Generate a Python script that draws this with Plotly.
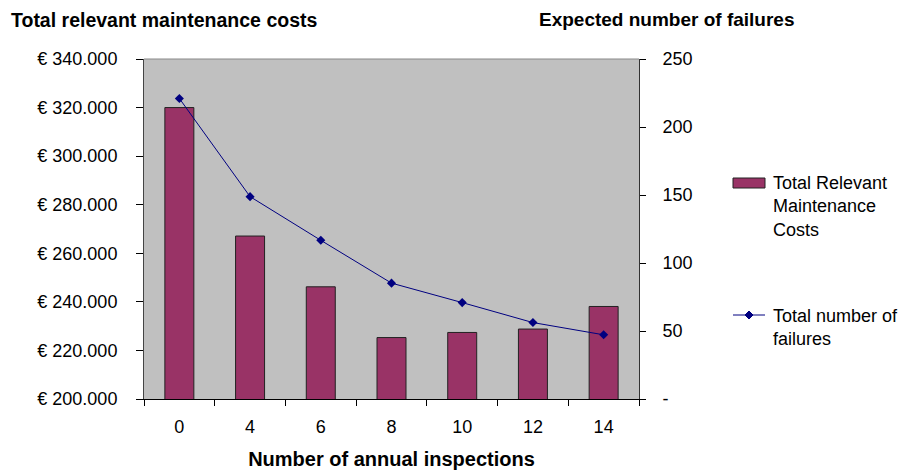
import plotly.graph_objects as go

# Number of annual inspections (categories)
inspections = ["0", "4", "6", "8", "10", "12", "14"]
# Total relevant maintenance costs in euro
costs = [320000, 267100, 246200, 225300, 227400, 228800, 238100]
# Expected number of failures
failures = [221.0, 148.8, 116.7, 85.2, 70.9, 56.2, 47.2]

cost_ticks = [200000, 220000, 240000, 260000, 280000, 300000, 320000, 340000]
cost_labels = ["€ 200.000", "€ 220.000", "€ 240.000", "€ 260.000",
               "€ 280.000", "€ 300.000", "€ 320.000", "€ 340.000"]
fail_ticks = [0, 50, 100, 150, 200, 250]
fail_labels = ["-", "50", "100", "150", "200", "250"]

FONT = "Liberation Sans, Arial, sans-serif"
BAR_COLOR = "#993366"
LINE_COLOR = "#000080"

W, H = 907, 470
L, R, T, B = 144, 268, 59, 71
pw = W - L - R
ph = H - T - B


def px_x(x):
    return (x - L) / pw


def px_y(y):
    return (H - B - y) / ph


fig = go.Figure()
fig.add_trace(go.Bar(
    x=inspections, y=costs, name="Total Relevant Maintenance Costs",
    marker=dict(color=BAR_COLOR, line=dict(color="#222222", width=1)),
    width=0.41, yaxis="y", showlegend=False,
))
fig.add_trace(go.Scatter(
    x=inspections, y=failures, name="Total number of failures",
    mode="lines+markers", line=dict(color=LINE_COLOR, width=1),
    marker=dict(symbol="diamond", size=7, color=LINE_COLOR),
    yaxis="y2", showlegend=False,
))

# Hand-drawn legend on the right
sw_x0, sw_x1 = 733, 765
shapes = [
    # top border of the plot area
    dict(type="line", xref="paper", yref="paper", x0=0, x1=1, y0=1, y1=1,
         line=dict(color="#888888", width=1)),
    # bar swatch
    dict(type="rect", xref="paper", yref="paper",
         x0=px_x(sw_x0), x1=px_x(sw_x1), y0=px_y(188), y1=px_y(178),
         fillcolor=BAR_COLOR, line=dict(color="#222222", width=1)),
    # line swatch
    dict(type="line", xref="paper", yref="paper",
         x0=px_x(sw_x0), x1=px_x(sw_x1), y0=px_y(315), y1=px_y(315),
         line=dict(color=LINE_COLOR, width=1)),
    # diamond on line swatch
    dict(type="path", xref="paper", yref="paper",
         path="M {a},{b} L {c},{d} L {e},{b} L {c},{f} Z".format(
             a=px_x(745), b=px_y(315), c=px_x(749), d=px_y(311),
             e=px_x(753), f=px_y(319)),
         fillcolor=LINE_COLOR, line=dict(color=LINE_COLOR, width=1)),
]

annotations = [
    dict(text="<b>Total relevant maintenance costs</b>", xref="paper",
         yref="paper", x=px_x(9), y=px_y(20), xanchor="left",
         yanchor="middle", showarrow=False, font=dict(size=19.5)),
    dict(text="<b>Expected number of failures</b>", xref="paper",
         yref="paper", x=px_x(537), y=px_y(20), xanchor="left",
         yanchor="middle", showarrow=False, font=dict(size=19)),
    dict(text="Total Relevant<br>Maintenance<br>Costs", xref="paper",
         yref="paper", x=px_x(771), y=px_y(171), xanchor="left",
         yanchor="top", align="left", showarrow=False, font=dict(size=18)),
    dict(text="Total number of<br>failures", xref="paper",
         yref="paper", x=px_x(771), y=px_y(304), xanchor="left",
         yanchor="top", align="left", showarrow=False, font=dict(size=18)),
]

fig.update_layout(
    width=W, height=H,
    margin=dict(l=L, r=R, t=T, b=B, pad=0),
    paper_bgcolor="white", plot_bgcolor="#C0C0C0",
    font=dict(family=FONT, size=18, color="black"),
    showlegend=False,
    shapes=shapes,
    annotations=annotations,
    xaxis=dict(
        type="category", showline=True, linecolor="black", linewidth=1,
        ticks="outside", tickson="boundaries", ticklen=6, tickcolor="black",
        showgrid=False, ticklabelstandoff=11, automargin=False,
        title=dict(text="<b>Number of annual inspections</b>", standoff=16,
                   font=dict(size=20)),
    ),
    yaxis=dict(
        range=[200000, 340000], tickvals=cost_ticks, ticktext=cost_labels,
        showline=True, linecolor="#444444", linewidth=1, ticks="outside",
        ticklen=7, tickcolor="black", showgrid=False, zeroline=False,
        ticklabelstandoff=15, automargin=False,
    ),
    yaxis2=dict(
        range=[0, 250], tickvals=fail_ticks, ticktext=fail_labels,
        overlaying="y", side="right", showline=True, linecolor="#333333",
        linewidth=1, ticks="outside", ticklen=6, tickcolor="black",
        showgrid=False, zeroline=False, ticklabelstandoff=13,
        automargin=False,
    ),
)

fig.write_html("out.html")
